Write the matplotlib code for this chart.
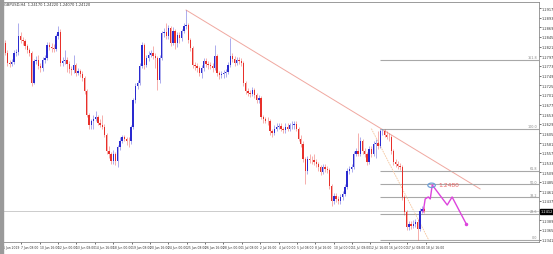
import matplotlib
matplotlib.use("Agg")
import matplotlib.pyplot as plt
import matplotlib.transforms as mtransforms
from matplotlib.patches import Ellipse
import numpy as np

# cabeçalho do gráfico (MT4)
titulo = "GBPUSD,H4  1.24170 1.24220 1.24070 1.24120"

# velas H4 - abertura da primeira, depois fechamentos / máximas / mínimas
abertura_inicial = 1.2755
fechamentos = [
    1.2830, 1.2805, 1.2780, 1.2777, 1.2782, 1.2805, 1.2807, 1.2847, 1.2837, 1.2835,
    1.2822, 1.2812, 1.2805, 1.2730, 1.2785, 1.2787, 1.2772, 1.2767, 1.2787, 1.2792,
    1.2825, 1.2820, 1.2817, 1.2815, 1.2847, 1.2857, 1.2780, 1.2785, 1.2787, 1.2777,
    1.2765, 1.2762, 1.2775, 1.2755, 1.2760, 1.2752, 1.2742, 1.2710, 1.2650, 1.2625,
    1.2635, 1.2642, 1.2645, 1.2632, 1.2627, 1.2622, 1.2600, 1.2562, 1.2555, 1.2537,
    1.2555, 1.2537, 1.2572, 1.2587, 1.2595, 1.2592, 1.2587, 1.2585, 1.2622, 1.2687,
    1.2722, 1.2730, 1.2772, 1.2825, 1.2775, 1.2792, 1.2800, 1.2805, 1.2797, 1.2792,
    1.2737, 1.2792, 1.2855, 1.2857, 1.2847, 1.2867, 1.2830, 1.2860, 1.2830, 1.2850,
    1.2842, 1.2860, 1.2872, 1.2875, 1.2837, 1.2817, 1.2775, 1.2772, 1.2767, 1.2755,
    1.2767, 1.2785, 1.2777, 1.2775, 1.2772, 1.2767, 1.2797, 1.2755, 1.2750, 1.2752,
    1.2755, 1.2757, 1.2775, 1.2797, 1.2790, 1.2780, 1.2787, 1.2785, 1.2780, 1.2730,
    1.2710, 1.2705, 1.2702, 1.2712, 1.2700, 1.2687, 1.2692, 1.2647, 1.2640, 1.2637,
    1.2635, 1.2610, 1.2605, 1.2617, 1.2622, 1.2624, 1.2615, 1.2613, 1.2622, 1.2617,
    1.2625, 1.2627, 1.2628, 1.2617, 1.2592, 1.2580, 1.2542, 1.2512, 1.2542, 1.2540,
    1.2538, 1.2535, 1.2530, 1.2522, 1.2510, 1.2522, 1.2517, 1.2515, 1.2475, 1.2437,
    1.2450, 1.2442, 1.2437, 1.2447, 1.2455, 1.2472, 1.2512, 1.2517, 1.2522, 1.2555,
    1.2562, 1.2555, 1.2587, 1.2562, 1.2555, 1.2535, 1.2567, 1.2555, 1.2580, 1.2582,
    1.2575, 1.2610, 1.2612, 1.2602, 1.2597, 1.2595, 1.2562, 1.2535, 1.2530, 1.2525,
    1.2522, 1.2447, 1.2410, 1.2372, 1.2380, 1.2375, 1.2380, 1.2385, 1.2367, 1.2412,
    1.2417, 1.2412,
]
maximas = [
    1.2837, 1.2838, 1.2812, 1.2788, 1.2790, 1.2812, 1.2815, 1.2880, 1.2858, 1.2845,
    1.2840, 1.2828, 1.2818, 1.2810, 1.2790, 1.2797, 1.2800, 1.2780, 1.2795, 1.2800,
    1.2832, 1.2832, 1.2830, 1.2827, 1.2852, 1.2872, 1.2865, 1.2795, 1.2812, 1.2795,
    1.2785, 1.2772, 1.2800, 1.2780, 1.2767, 1.2765, 1.2760, 1.2747, 1.2715, 1.2655,
    1.2642, 1.2650, 1.2660, 1.2650, 1.2640, 1.2650, 1.2628, 1.2605, 1.2575, 1.2560,
    1.2565, 1.2560, 1.2577, 1.2595, 1.2602, 1.2600, 1.2597, 1.2595, 1.2627, 1.2692,
    1.2730, 1.2737, 1.2780, 1.2832, 1.2830, 1.2800, 1.2810, 1.2812, 1.2822, 1.2805,
    1.2797, 1.2800, 1.2860, 1.2867, 1.2880, 1.2875, 1.2872, 1.2870, 1.2865, 1.2857,
    1.2858, 1.2865, 1.2880, 1.2912, 1.2880, 1.2842, 1.2822, 1.2782, 1.2780, 1.2772,
    1.2775, 1.2792, 1.2792, 1.2785, 1.2782, 1.2780, 1.2825, 1.2802, 1.2760, 1.2760,
    1.2762, 1.2765, 1.2782, 1.2842, 1.2805, 1.2797, 1.2795, 1.2795, 1.2792, 1.2785,
    1.2735, 1.2717, 1.2712, 1.2720, 1.2718, 1.2705, 1.2700, 1.2697, 1.2652, 1.2647,
    1.2645, 1.2640, 1.2617, 1.2625, 1.2630, 1.2632, 1.2630, 1.2622, 1.2630, 1.2630,
    1.2632, 1.2635, 1.2637, 1.2635, 1.2622, 1.2600, 1.2585, 1.2547, 1.2550, 1.2555,
    1.2550, 1.2555, 1.2542, 1.2535, 1.2527, 1.2530, 1.2530, 1.2525, 1.2520, 1.2480,
    1.2457, 1.2457, 1.2450, 1.2455, 1.2462, 1.2480, 1.2520, 1.2525, 1.2530, 1.2562,
    1.2570, 1.2605, 1.2595, 1.2592, 1.2570, 1.2560, 1.2575, 1.2575, 1.2587, 1.2590,
    1.2612, 1.2615, 1.2617, 1.2615, 1.2610, 1.2605, 1.2600, 1.2567, 1.2542, 1.2537,
    1.2532, 1.2527, 1.2452, 1.2415, 1.2387, 1.2387, 1.2390, 1.2392, 1.2392, 1.2420,
    1.2425, 1.2422,
]
minimas = [
    1.2745, 1.2800, 1.2772, 1.2770, 1.2772, 1.2778, 1.2798, 1.2800, 1.2830, 1.2826,
    1.2815, 1.2805, 1.2797, 1.2724, 1.2727, 1.2777, 1.2765, 1.2757, 1.2760, 1.2780,
    1.2787, 1.2812, 1.2808, 1.2807, 1.2810, 1.2840, 1.2772, 1.2772, 1.2777, 1.2757,
    1.2755, 1.2750, 1.2755, 1.2747, 1.2750, 1.2745, 1.2735, 1.2702, 1.2645, 1.2617,
    1.2617, 1.2615, 1.2635, 1.2625, 1.2620, 1.2615, 1.2595, 1.2555, 1.2545, 1.2530,
    1.2530, 1.2527, 1.2522, 1.2565, 1.2582, 1.2585, 1.2577, 1.2572, 1.2580, 1.2617,
    1.2680, 1.2715, 1.2725, 1.2767, 1.2765, 1.2770, 1.2785, 1.2795, 1.2790, 1.2767,
    1.2712, 1.2730, 1.2787, 1.2845, 1.2840, 1.2840, 1.2822, 1.2825, 1.2815, 1.2820,
    1.2830, 1.2835, 1.2855, 1.2865, 1.2830, 1.2810, 1.2767, 1.2762, 1.2757, 1.2747,
    1.2742, 1.2760, 1.2770, 1.2765, 1.2765, 1.2757, 1.2762, 1.2747, 1.2740, 1.2742,
    1.2742, 1.2745, 1.2752, 1.2770, 1.2782, 1.2772, 1.2775, 1.2777, 1.2772, 1.2722,
    1.2702, 1.2697, 1.2695, 1.2697, 1.2692, 1.2680, 1.2680, 1.2640, 1.2632, 1.2630,
    1.2627, 1.2600, 1.2597, 1.2600, 1.2612, 1.2615, 1.2610, 1.2607, 1.2607, 1.2610,
    1.2610, 1.2617, 1.2617, 1.2610, 1.2585, 1.2572, 1.2535, 1.2480, 1.2505, 1.2532,
    1.2530, 1.2527, 1.2522, 1.2512, 1.2502, 1.2505, 1.2510, 1.2507, 1.2467, 1.2425,
    1.2430, 1.2435, 1.2430, 1.2430, 1.2440, 1.2450, 1.2467, 1.2505, 1.2510, 1.2517,
    1.2550, 1.2550, 1.2550, 1.2555, 1.2547, 1.2527, 1.2530, 1.2547, 1.2550, 1.2545,
    1.2567, 1.2570, 1.2600, 1.2595, 1.2590, 1.2587, 1.2555, 1.2527, 1.2522, 1.2517,
    1.2515, 1.2440, 1.2402, 1.2365, 1.2365, 1.2367, 1.2370, 1.2372, 1.2340, 1.2362,
    1.2407, 1.2407,
]

# Fibonacci (topo e fundo da última queda)
fibo_niveis = [0.0, 23.6, 38.2, 50.0, 61.8, 100.0, 161.8]
fibo_topo = 1.2617
fibo_fundo = 1.2340
fibo_inicio = 171          # vela onde começam as linhas
fibo_base_x = [167, 193]   # linha pontilhada topo -> fundo

# linha de tendência de baixa (toca os topos)
tendencia_x = [83, 216.3]
tendencia_y = [1.2912, 1.2467]

# caminho projetado desenhado à mão (magenta)
projecao_x = [190.5, 191.4, 192.8, 193.7, 194.6, 201.4, 203.6, 210.0]
projecao_y = [1.2410, 1.2442, 1.2447, 1.2442, 1.2477, 1.2427, 1.2447, 1.2380]
alvo_texto = "1.2480"
alvo_x = 194.6
alvo_y = 1.2477

# eixo de preços e datas
precos_eixo = [1.2917, 1.2893, 1.2869, 1.2845, 1.2821, 1.2797, 1.2773, 1.2749, 1.2725,
               1.2701, 1.2677, 1.2653, 1.2629, 1.2605, 1.2581, 1.2557, 1.2533, 1.2509,
               1.2485, 1.2461, 1.2437, 1.2389, 1.2365, 1.2341]
datas_eixo = ["6 Jun 2019", "7 Jun 08:00", "10 Jun 16:00", "12 Jun 00:00", "13 Jun 08:00",
              "14 Jun 16:00", "18 Jun 00:00", "19 Jun 08:00", "20 Jun 16:00", "24 Jun 00:00",
              "25 Jun 08:00", "26 Jun 16:00", "28 Jun 00:00", "1 Jul 08:00", "2 Jul 16:00",
              "4 Jul 00:00", "5 Jul 08:00", "8 Jul 16:00", "10 Jul 00:00", "11 Jul 08:00",
              "12 Jul 16:00", "16 Jul 00:00", "17 Jul 08:00", "18 Jul 16:00"]
barras_por_data = 8.33

COR_ALTA = "#2a2ad0"
COR_BAIXA = "#e8302a"

aberturas = [abertura_inicial] + fechamentos[:-1]
n = len(fechamentos)
x = np.arange(n)

fig = plt.figure(figsize=(5.53, 2.55), dpi=100)
ax = fig.add_axes([3 / 553, 12 / 255, 536 / 553, 240 / 255])

for i in range(n):
    o, c = aberturas[i], fechamentos[i]
    cor = COR_ALTA if c >= o else COR_BAIXA
    ax.vlines(x[i], minimas[i], maximas[i], color=cor, lw=0.6, alpha=0.45, zorder=2)
    altura = max(abs(c - o), 0.00012)
    ax.bar(x[i], altura, bottom=min(o, c), width=0.6, color=cor, lw=0, zorder=3)

# linha de tendência
ax.plot(tendencia_x, tendencia_y, color="#f0a8a0", lw=0.7, zorder=1)

# níveis de Fibonacci
direita = 243
for nivel in fibo_niveis:
    p = fibo_fundo + (fibo_topo - fibo_fundo) * nivel / 100
    ax.hlines(p, fibo_inicio, direita, color="#a8a8a8", lw=0.8, zorder=1)
    ax.text(direita - 1, p + 0.0002, f"{nivel:.1f}", fontsize=2.4, color="#888888",
            ha="right", va="bottom")
ax.plot(fibo_base_x, [fibo_topo, fibo_fundo], color="#f5c49c", lw=0.6, ls=(0, (2, 1)), zorder=1)

# preço atual
atual = fechamentos[-1]
ax.axhline(atual, color="#cccccc", lw=0.7, zorder=1)

# projeção
ax.plot(projecao_x, projecao_y, color="#dd44dd", lw=1.0, zorder=4)
ax.plot(projecao_x[-1], projecao_y[-1], "o", color="#dd44dd", ms=1.5, zorder=4)
ax.add_patch(Ellipse((alvo_x - 0.3, alvo_y - 0.0001), 3.4, 0.0011, fill=False,
                     ec="#6fa0d8", lw=0.9, zorder=5))
ax.text(alvo_x + 2.6, alvo_y + 0.0002, alvo_texto, fontsize=4.3, color="#e86060",
        ha="left", va="center", zorder=5)

ax.set_xlim(0.3, direita)
ax.set_ylim(1.2335, 1.2932)

ax.yaxis.tick_right()
ax.set_yticks(precos_eixo)
ax.set_yticklabels([f"{p:.4f}" for p in precos_eixo], fontsize=2.5, color="#333333")
ax.tick_params(axis="y", length=1.2, width=0.4, pad=0.8)
ax.set_xticks(np.arange(len(datas_eixo)) * barras_por_data)
ax.set_xticklabels(datas_eixo, fontsize=2.2, color="#333333", ha="left")
ax.tick_params(axis="x", length=1.5, width=0.4, pad=1)

for s in ax.spines.values():
    s.set_color("#8a8a8a")
    s.set_linewidth(0.6)

# caixa do preço atual no eixo
trans = mtransforms.blended_transform_factory(ax.transAxes, ax.transData)
ax.text(1.003, atual, f"{atual:.4f}", transform=trans, fontsize=2.5, color="white",
        va="center", ha="left", bbox=dict(boxstyle="square,pad=0.15", fc="black", ec="black"))

ax.text(0.002, 0.998, titulo, transform=ax.transAxes, fontsize=2.6, color="#333333",
        ha="left", va="top")

# borda da janela à esquerda
fig.patches.append(plt.Rectangle((0, 0), 2.5 / 553, 1, transform=fig.transFigure,
                                 color="#9a9a9a", zorder=0))

fig.savefig("out.png", dpi=100)
